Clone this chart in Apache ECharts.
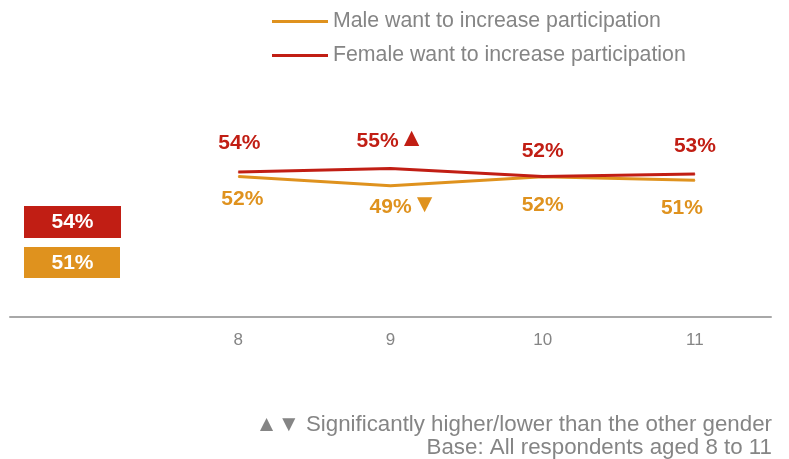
<!DOCTYPE html>
<html><head><meta charset="utf-8">
<script src="https://cdn.jsdelivr.net/npm/echarts@6/dist/echarts.min.js"></script>
<style>html,body{margin:0;padding:0;background:#fff}#c{width:789px;height:459px}</style>
</head><body><div id="c"></div>
<script>
// ---- data ----
const categories = ['', '8', '9', '10', '11'];
const seriesNames = ['Male want to increase participation', 'Female want to increase participation'];
const maleValues = [null, 52.4, 49.0, 52.3, 51.0];
const femaleValues = [null, 54.1, 55.4, 52.4, 53.4];
const maleLabels = [null, 52, 49, 52, 51];
const femaleLabels = [null, 54, 55, 52, 53];
const maleSig = ['', '', 'down', '', ''];
const femaleSig = ['', '', 'up', '', ''];
const averageFemale = 54;
const averageMale = 51;
const footnotes = ['\u25B2\u25BC Significantly higher/lower than the other gender', 'Base: All respondents aged 8 to 11'];

// ---- style ----
const RED = '#C11E14';
const ORANGE = '#DF921E';
const GREY = '#858585';
const FONT = '"Liberation Sans", Arial, sans-serif';
const maleOffsets = [[0,0],[4,21],[13,20],[0,27],[-13,26]];
const femaleOffsets = [[0,0],[1,-30],[0,-29],[0,-27],[0,-29]];

function buildData(values, labels, sig, offsets, color) {
  return values.map((v, i) => {
    if (v === null) return null;
    const arrow = sig[i] === 'up' ? '\u25B2' : (sig[i] === 'down' ? '\u25BC' : '');
    return {
      value: v,
      label: {
        show: true,
        position: 'inside',
        offset: offsets[i],
        formatter: '{v|' + labels[i] + '%}' + (arrow ? '{t|' + arrow + '}' : ''),
        rich: {
          v: {fontSize: 21, fontWeight: 'bold', color: color, fontFamily: FONT, lineHeight: 24, verticalAlign: 'bottom'},
          t: {fontSize: 26, color: color, fontFamily: FONT, lineHeight: 24, verticalAlign: 'bottom'}
        }
      }
    };
  });
}

const chart = echarts.init(document.getElementById('c'), null, {renderer: 'canvas'});
chart.setOption({
  animation: false,
  backgroundColor: '#fff',
  textStyle: {fontFamily: FONT},
  grid: {left: 10, right: 18, top: 49, bottom: 142, containLabel: false},
  legend: {
    orient: 'vertical', left: 272, top: 11, padding: 0, itemWidth: 56, itemHeight: 3, itemGap: 13,
    icon: 'rect',
    data: seriesNames,
    textStyle: {fontSize: 21.3, color: GREY, fontFamily: FONT}
  },
  xAxis: {
    type: 'category', data: categories, boundaryGap: true,
    axisLine: {lineStyle: {color: '#a8a8a8', width: 2}},
    axisTick: {show: false},
    axisLabel: {color: GREY, fontSize: 17, margin: 15, fontFamily: FONT}
  },
  yAxis: {type: 'value', min: 0, max: 100, show: false, splitLine: {show: false}},
  series: [
    {
      name: seriesNames[0], type: 'line', showSymbol: true, symbol: 'circle', symbolSize: 1,
      itemStyle: {color: ORANGE}, lineStyle: {color: ORANGE, width: 3},
      data: buildData(maleValues, maleLabels, maleSig, maleOffsets, ORANGE), z: 2
    },
    {
      name: seriesNames[1], type: 'line', showSymbol: true, symbol: 'circle', symbolSize: 1,
      itemStyle: {color: RED}, lineStyle: {color: RED, width: 3},
      data: buildData(femaleValues, femaleLabels, femaleSig, femaleOffsets, RED), z: 3
    }
  ],
  graphic: [
    {type: 'rect', left: 24, top: 206, shape: {width: 97, height: 32}, style: {fill: RED}},
    {type: 'text', x: 72.5, y: 222, style: {text: averageFemale + '%', fill: '#fff', font: 'bold 21px ' + FONT, textAlign: 'center', textVerticalAlign: 'middle'}},
    {type: 'rect', left: 24, top: 247, shape: {width: 96, height: 31}, style: {fill: ORANGE}},
    {type: 'text', x: 72.5, y: 263, style: {text: averageMale + '%', fill: '#fff', font: 'bold 21px ' + FONT, textAlign: 'center', textVerticalAlign: 'middle'}},
    {type: 'text', x: 772, y: 424.5, style: {text: footnotes[0], fill: GREY, font: '22.3px ' + FONT, textAlign: 'right', textVerticalAlign: 'middle'}},
    {type: 'text', x: 772, y: 447.5, style: {text: footnotes[1], fill: GREY, font: '22.3px ' + FONT, textAlign: 'right', textVerticalAlign: 'middle'}}
  ]
});
</script>
</body></html>
